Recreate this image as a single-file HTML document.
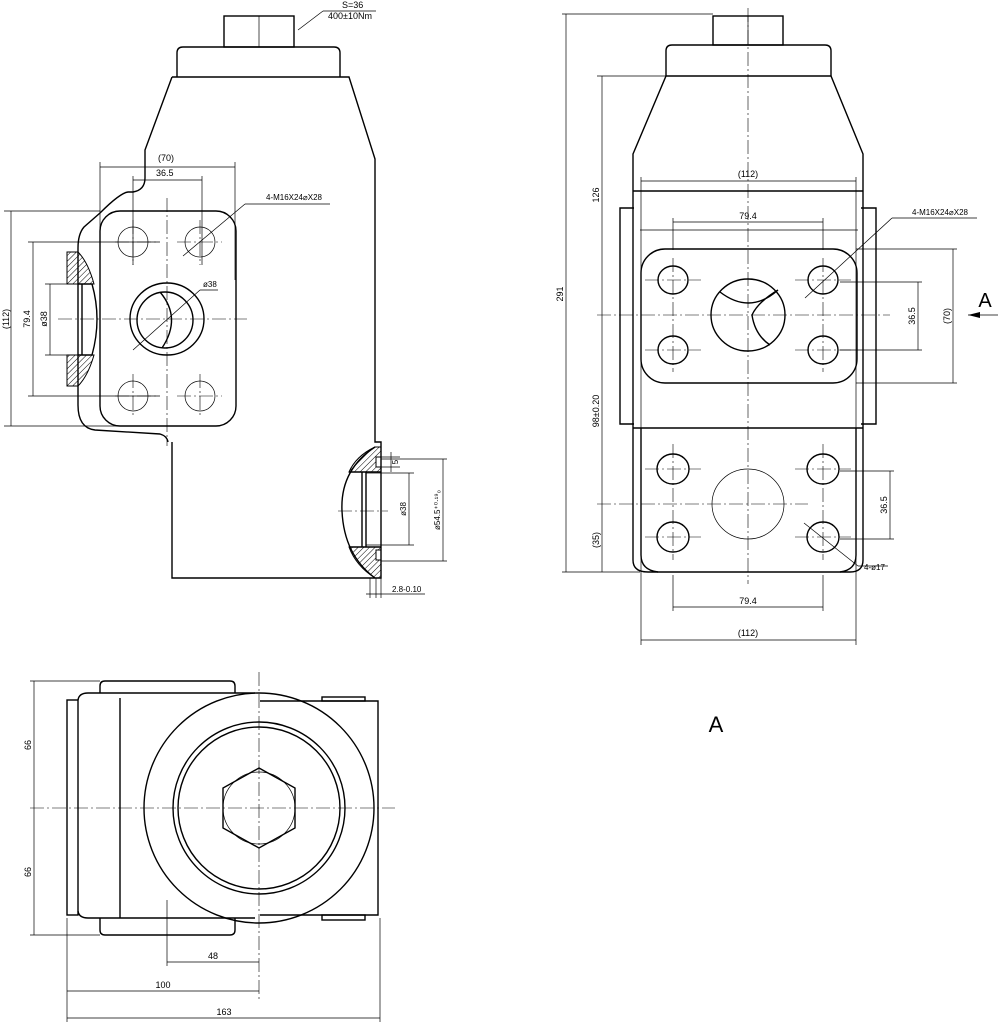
<!DOCTYPE html>
<html><head><meta charset="utf-8"><style>
html,body{margin:0;padding:0;background:#fff;}
svg{display:block;font-family:"Liberation Sans",sans-serif;}
.o{fill:none;stroke:#000;stroke-width:1.4}
.t{fill:none;stroke:#000;stroke-width:0.7}
.c{fill:none;stroke:#000;stroke-width:0.6;stroke-dasharray:14 3 2 3}
text{fill:#000}
.h{fill:url(#hatch);stroke:#000;stroke-width:1}
</style></head><body>
<svg width="999" height="1024" viewBox="0 0 999 1024" font-size="10">
<defs>
<pattern id="hatch" width="4" height="4" patternUnits="userSpaceOnUse" patternTransform="rotate(45)"><line x1="0" y1="0" x2="0" y2="4" stroke="#000" stroke-width="1"/></pattern>
</defs>

<!-- ===== VIEW 1 (left top) ===== -->
<rect class="o" x="224" y="16" width="70" height="31"/>
<line class="t" x1="259" y1="16" x2="259" y2="47"/>
<path class="o" d="M177,77 V53 Q177,47 183,47 H334 Q340,47 340,53 V77"/>
<path class="o" d="M172,77 H349 L375,159 V442 H381 V578 H172 V442"/>
<path class="o" d="M172,77 L145,150 V178 Q145,190 133,192 H128 Q120,193 100,213 L84,227 Q78,234 78,248 V405 Q78,428 95,430 L160,434 Q167,436 168,442"/>
<rect class="o" x="100" y="211" width="136" height="215" rx="20"/>
<g class="t">
<circle cx="133" cy="242" r="15"/><circle cx="200" cy="242" r="15"/>
<circle cx="133" cy="396" r="15"/><circle cx="200" cy="396" r="15"/>
</g>
<ellipse class="o" cx="167" cy="319" rx="37" ry="36"/>
<circle class="o" cx="165" cy="320" r="28"/>
<path class="o" d="M160,292 Q182,318 162,348"/>
<line class="c" x1="167" y1="198" x2="167" y2="446"/>
<line class="c" x1="58" y1="319" x2="247" y2="319"/>
<g class="c">
<line x1="133" y1="220" x2="133" y2="265"/><line x1="115" y1="242" x2="157" y2="242"/>
<line x1="200" y1="220" x2="200" y2="265"/><line x1="177" y1="242" x2="222" y2="242"/>
<line x1="133" y1="374" x2="133" y2="418"/><line x1="115" y1="396" x2="157" y2="396"/>
<line x1="200" y1="374" x2="200" y2="418"/><line x1="177" y1="396" x2="222" y2="396"/>
</g>
<path class="h" d="M67,252 H78 Q88,262 94,284 H67 Z"/>
<path class="h" d="M67,386 H78 Q88,376 94,355 H67 Z"/>
<path class="o" d="M82,284 V355 M78,284 H92 Q102,319 92,355 H78"/>
<g class="t">
<line x1="4" y1="211" x2="100" y2="211"/><line x1="4" y1="426" x2="165" y2="426"/>
<line x1="11" y1="211" x2="11" y2="426"/>
<line x1="28" y1="242" x2="160" y2="242"/><line x1="28" y1="396" x2="160" y2="396"/>
<line x1="33" y1="242" x2="33" y2="396"/>
<line x1="45" y1="284" x2="82" y2="284"/><line x1="45" y1="355" x2="82" y2="355"/>
<line x1="50" y1="284" x2="50" y2="355"/>
<line x1="100" y1="162" x2="100" y2="280"/><line x1="235" y1="162" x2="235" y2="280"/>
<line x1="100" y1="167" x2="235" y2="167"/>
<line x1="133" y1="176" x2="133" y2="265"/><line x1="202" y1="176" x2="202" y2="265"/>
<line x1="133" y1="180" x2="202" y2="180"/>
<line x1="183" y1="256" x2="245" y2="204"/><line x1="245" y1="204" x2="330" y2="204"/>
<line x1="133" y1="350" x2="200" y2="290"/><line x1="200" y1="290" x2="218" y2="290"/>
<line x1="298" y1="30" x2="323" y2="11"/><line x1="323" y1="11" x2="376" y2="11"/>
</g>
<text x="158" y="161" font-size="9">(70)</text>
<text x="156" y="176" font-size="9">36.5</text>
<text x="266" y="200" font-size="8">4-M16X24⌀X28</text>
<text x="203" y="287" font-size="8">ø38</text>
<text x="342" y="8" font-size="9">S=36</text>
<text x="328" y="19" font-size="9">400±10Nm</text>
<text transform="translate(9,319) rotate(-90)" text-anchor="middle" font-size="9">(112)</text>
<text transform="translate(30,319) rotate(-90)" text-anchor="middle" font-size="9">79.4</text>
<text transform="translate(47,319) rotate(-90)" text-anchor="middle" font-size="9">ø38</text>
<!-- lower right port -->
<path class="h" d="M375,447 Q356,456 349,472 H362 V472 H381 V467 H376 V457 H381 V447 Z"/>
<path class="h" d="M349,547 Q356,566 375,578 H381 V560 H376 V550 H381 V547 Z"/>
<path class="o" d="M375,447 Q340,470 342,511 Q344,555 375,578"/>
<path class="o" d="M362,472 V547 M366,472 V547 M349,472 H381 M349,547 H381"/>
<line class="c" x1="338" y1="511" x2="388" y2="511"/>
<g class="t">
<line x1="376" y1="457" x2="400" y2="457"/><line x1="376" y1="467" x2="400" y2="467"/>
<line x1="391" y1="452" x2="391" y2="472"/>
<line x1="366" y1="473" x2="414" y2="473"/><line x1="366" y1="545" x2="414" y2="545"/>
<line x1="409" y1="473" x2="409" y2="545"/>
<line x1="381" y1="459" x2="447" y2="459"/><line x1="381" y1="561" x2="447" y2="561"/>
<line x1="443" y1="459" x2="443" y2="561"/>
<line x1="370" y1="578" x2="370" y2="598"/><line x1="376" y1="578" x2="376" y2="598"/><line x1="381" y1="578" x2="381" y2="598"/>
<line x1="366" y1="594" x2="425" y2="594"/>
</g>
<text transform="translate(398,462) rotate(-90)" text-anchor="middle" font-size="8">5</text>
<text transform="translate(406,509) rotate(-90)" text-anchor="middle" font-size="8">ø38</text>
<text transform="translate(440,510) rotate(-90)" text-anchor="middle" font-size="8">ø54.5⁺⁰·¹⁹₀</text>
<text x="392" y="592" font-size="8">2.8-0.10</text>

<!-- ===== VIEW 2 (right top) ===== -->
<rect class="o" x="713" y="16" width="70" height="29"/>
<line class="t" x1="748" y1="16" x2="748" y2="45"/>
<path class="o" d="M666,76 V51 Q666,45 672,45 H825 Q831,45 831,51 V76"/>
<path class="o" d="M666,76 H831 L863,154 V560 Q863,572 850,572 H648 Q633,572 633,560 V154 Z"/>
<path class="o" d="M633,191 H863 M633,428 H863"/>
<path class="o" d="M634,208 H620 V424 H634 M861,208 H876 V424 H861"/>
<path class="o" d="M641,428 V555 Q641,570 658,572 M856,428 V555 Q856,570 840,572"/>
<rect class="o" x="641" y="249" width="216" height="134" rx="24"/>
<g class="o">
<ellipse cx="673" cy="280" rx="15" ry="14"/><ellipse cx="823" cy="280" rx="15" ry="14"/>
<ellipse cx="673" cy="350" rx="15" ry="14"/><ellipse cx="823" cy="350" rx="15" ry="14"/>
<ellipse cx="673" cy="469" rx="16" ry="15"/><ellipse cx="823" cy="469" rx="16" ry="15"/>
<ellipse cx="673" cy="537" rx="16" ry="15"/><ellipse cx="823" cy="537" rx="16" ry="15"/>
<ellipse cx="748" cy="315" rx="37" ry="36"/>
<path d="M720,292 Q750,315 778,290 M778,290 Q758,302 752,315 Q755,335 770,345"/>
</g>
<ellipse class="t" cx="748" cy="504" rx="36" ry="35"/>
<line class="c" x1="748" y1="8" x2="748" y2="584"/>
<line class="c" x1="597" y1="315" x2="890" y2="315"/>
<line class="c" x1="597" y1="504" x2="808" y2="504"/>
<g class="c">
<line x1="673" y1="258" x2="673" y2="372"/><line x1="823" y1="258" x2="823" y2="372"/>
<line x1="645" y1="280" x2="701" y2="280"/><line x1="795" y1="280" x2="851" y2="280"/>
<line x1="645" y1="350" x2="701" y2="350"/><line x1="795" y1="350" x2="851" y2="350"/>
<line x1="673" y1="444" x2="673" y2="560"/><line x1="823" y1="444" x2="823" y2="560"/>
<line x1="645" y1="469" x2="701" y2="469"/><line x1="795" y1="469" x2="851" y2="469"/>
<line x1="645" y1="537" x2="701" y2="537"/><line x1="795" y1="537" x2="851" y2="537"/>
</g>
<g class="t">
<line x1="562" y1="14" x2="713" y2="14"/><line x1="562" y1="572" x2="640" y2="572"/>
<line x1="566" y1="14" x2="566" y2="572"/>
<line x1="597" y1="76" x2="666" y2="76"/><line x1="602" y1="76" x2="602" y2="572"/>
<line x1="641" y1="177" x2="641" y2="645"/><line x1="856" y1="177" x2="856" y2="645"/>
<line x1="641" y1="181" x2="856" y2="181"/>
<line x1="640" y1="230" x2="858" y2="230"/>
<line x1="673" y1="218" x2="673" y2="250"/><line x1="823" y1="218" x2="823" y2="250"/>
<line x1="673" y1="222" x2="823" y2="222"/>
<line x1="673" y1="575" x2="673" y2="611"/><line x1="823" y1="575" x2="823" y2="611"/>
<line x1="673" y1="607" x2="823" y2="607"/>
<line x1="641" y1="640" x2="856" y2="640"/>
<line x1="840" y1="282" x2="922" y2="282"/><line x1="840" y1="350" x2="922" y2="350"/>
<line x1="918" y1="282" x2="918" y2="350"/>
<line x1="856" y1="249" x2="957" y2="249"/><line x1="856" y1="383" x2="957" y2="383"/>
<line x1="953" y1="249" x2="953" y2="383"/>
<line x1="840" y1="471" x2="894" y2="471"/><line x1="840" y1="539" x2="894" y2="539"/>
<line x1="890" y1="471" x2="890" y2="539"/>
<line x1="805" y1="298" x2="892" y2="218"/><line x1="892" y1="218" x2="977" y2="218"/>
<line x1="804" y1="523" x2="858" y2="566"/><line x1="858" y1="566" x2="888" y2="566"/>
<line x1="968" y1="315" x2="998" y2="315"/>
</g>
<path d="M968,315 L980,312 L980,318 Z" fill="#000"/>
<text x="985" y="307" font-size="20" text-anchor="middle">A</text>
<text x="748" y="177" font-size="9" text-anchor="middle">(112)</text>
<text x="748" y="219" font-size="9" text-anchor="middle">79.4</text>
<text x="748" y="604" font-size="9" text-anchor="middle">79.4</text>
<text x="748" y="636" font-size="9" text-anchor="middle">(112)</text>
<text x="912" y="215" font-size="8">4-M16X24⌀X28</text>
<text x="864" y="570" font-size="8">4-ø17</text>
<text transform="translate(563,294) rotate(-90)" text-anchor="middle" font-size="9">291</text>
<text transform="translate(599,195) rotate(-90)" text-anchor="middle" font-size="9">126</text>
<text transform="translate(599,411) rotate(-90)" text-anchor="middle" font-size="9">98±0.20</text>
<text transform="translate(599,540) rotate(-90)" text-anchor="middle" font-size="9">(35)</text>
<text transform="translate(915,316) rotate(-90)" text-anchor="middle" font-size="9">36.5</text>
<text transform="translate(950,316) rotate(-90)" text-anchor="middle" font-size="9">(70)</text>
<text transform="translate(887,505) rotate(-90)" text-anchor="middle" font-size="9">36.5</text>

<!-- ===== VIEW 3 (bottom) ===== -->
<rect class="o" x="67" y="700" width="11" height="215"/>
<path class="o" d="M78,700 Q79,693 88,693 H255"/>
<path class="o" d="M78,911 Q79,918 88,918 H255"/>
<path class="o" d="M260,701 H378 V915 H260"/>
<path class="o" d="M100,693 V686 Q100,681 105,681 H230 Q235,681 235,686 V693"/>
<path class="o" d="M100,918 V930 Q100,935 105,935 H230 Q235,935 235,930 V918"/>
<rect class="o" x="322" y="697" width="43" height="4"/><rect class="o" x="322" y="915" width="43" height="5"/>
<line class="o" x1="120" y1="698" x2="120" y2="918"/>
<circle class="o" cx="259" cy="808" r="115" fill="#fff"/>
<circle class="o" cx="259" cy="808" r="86"/>
<circle class="o" cx="259" cy="808" r="81"/>
<polygon class="o" points="259,768 295,788 295,828 259,848 223,828 223,788"/>
<circle class="t" cx="259" cy="808" r="36"/>
<line class="c" x1="259" y1="672" x2="259" y2="1000"/>
<line class="c" x1="30" y1="808" x2="395" y2="808"/>
<g class="t">
<line x1="30" y1="681" x2="100" y2="681"/><line x1="30" y1="935" x2="100" y2="935"/>
<line x1="34" y1="681" x2="34" y2="935"/>
<line x1="167" y1="900" x2="167" y2="966"/><line x1="167" y1="962" x2="259" y2="962"/>
<line x1="67" y1="918" x2="67" y2="1022"/><line x1="380" y1="918" x2="380" y2="1022"/>
<line x1="67" y1="991" x2="259" y2="991"/>
<line x1="67" y1="1018" x2="380" y2="1018"/>
</g>
<text transform="translate(31,745) rotate(-90)" text-anchor="middle" font-size="9">66</text>
<text transform="translate(31,872) rotate(-90)" text-anchor="middle" font-size="9">66</text>
<text x="213" y="959" font-size="9" text-anchor="middle">48</text>
<text x="163" y="988" font-size="9" text-anchor="middle">100</text>
<text x="224" y="1015" font-size="9" text-anchor="middle">163</text>
<text x="716" y="732" font-size="22" text-anchor="middle">A</text>
</svg>
</body></html>
